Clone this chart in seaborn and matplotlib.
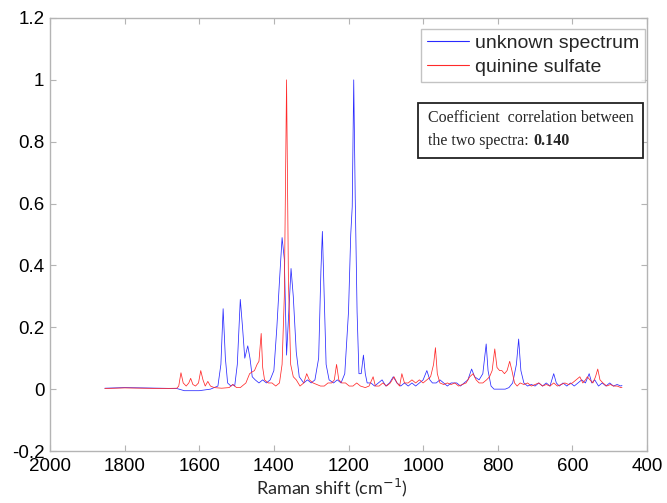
import numpy as np
import pandas as pd
import matplotlib
matplotlib.use("Agg")
import matplotlib.pyplot as plt
import seaborn as sns
from matplotlib.patches import Rectangle
from matplotlib.ticker import FuncFormatter

# ---- data (Raman shift cm^-1, normalised intensity) ----
unknown_shift = [1853, 1800, 1750, 1700, 1660, 1640, 1600, 1570, 1550, 1542, 1536, 1530, 1524, 1515,
                 1510, 1505, 1498, 1490, 1484, 1478, 1470, 1464, 1458, 1450, 1440, 1430, 1420, 1410,
                 1400, 1392, 1385, 1378, 1372, 1366, 1360, 1354, 1348, 1340, 1332, 1320, 1310, 1300,
                 1290, 1280, 1274, 1270, 1265, 1260, 1252, 1240, 1230, 1220, 1210, 1200, 1194, 1190,
                 1186, 1182, 1177, 1172, 1166, 1160, 1155, 1150, 1140, 1130, 1120, 1110, 1100, 1090,
                 1080, 1070, 1060, 1050, 1040, 1030, 1020, 1010, 1000, 990, 982, 975, 965, 955, 945,
                 935, 925, 910, 900, 890, 880, 870, 862, 850, 840, 831, 826, 818, 810, 800, 790, 780,
                 770, 760, 750, 744, 738, 730, 720, 710, 700, 690, 680, 670, 660, 650, 643, 635, 625,
                 615, 605, 595, 585, 575, 565, 555, 548, 540, 530, 520, 510, 500, 490, 480, 470, 467]
unknown_int = [0.003, 0.005, 0.004, 0.003, 0.002, -0.005, -0.005, 0.0, 0.01, 0.08, 0.26, 0.10, 0.02, 0.01,
               0.015, 0.01, 0.08, 0.29, 0.20, 0.10, 0.14, 0.10, 0.04, 0.03, 0.02, 0.03, 0.02, 0.03,
               0.06, 0.20, 0.35, 0.49, 0.42, 0.11, 0.25, 0.39, 0.30, 0.12, 0.04, 0.02, 0.03, 0.02,
               0.03, 0.10, 0.38, 0.51, 0.30, 0.08, 0.03, 0.02, 0.03, 0.02, 0.05, 0.25, 0.50, 0.59,
               1.00, 0.62, 0.25, 0.05, 0.05, 0.11, 0.05, 0.02, 0.02, 0.01, 0.02, 0.03, 0.01, 0.02,
               0.04, 0.02, 0.01, 0.02, 0.01, 0.02, 0.01, 0.02, 0.03, 0.06, 0.03, 0.02, 0.02, 0.03, 0.02,
               0.01, 0.02, 0.02, 0.01, 0.02, 0.03, 0.065, 0.04, 0.03, 0.05, 0.146, 0.06, 0.01, 0.0, 0.0, 0.0, 0.0,
               0.005, 0.02, 0.08, 0.162, 0.06, 0.02, 0.01, 0.015, 0.01, 0.02, 0.01, 0.02, 0.01, 0.05, 0.02, 0.01, 0.02,
               0.01, 0.02, 0.01, 0.02, 0.03, 0.02, 0.05, 0.02, 0.03, 0.01, 0.02, 0.01, 0.02, 0.01, 0.015, 0.01, 0.012]

quinine_shift = [1853, 1800, 1750, 1700, 1660, 1655, 1649, 1643, 1635, 1628, 1623, 1617, 1610, 1602,
                 1596, 1590, 1584, 1577, 1570, 1560, 1540, 1520, 1510, 1500, 1490, 1475, 1465, 1459,
                 1452, 1445, 1440, 1434, 1430, 1425, 1415, 1405, 1395, 1385, 1378, 1372, 1366, 1361,
                 1355, 1348, 1340, 1330, 1320, 1312, 1305, 1295, 1285, 1275, 1265, 1255, 1245, 1238,
                 1232, 1226, 1218, 1208, 1198, 1188, 1178, 1168, 1155, 1145, 1134, 1128, 1118, 1108,
                 1098, 1088, 1078, 1070, 1063, 1057, 1050, 1040, 1030, 1020, 1010, 1000, 990, 980, 972,
                 967, 962, 955, 945, 935, 925, 915, 905, 895, 885, 875, 866, 858, 850, 840, 830, 822,
                 815, 808, 802, 795, 789, 782, 775, 768, 762, 755, 748, 740, 730, 720, 710, 700, 690,
                 680, 670, 660, 650, 640, 630, 620, 610, 600, 590, 580, 572, 565, 560, 553, 545, 538,
                 532, 526, 518, 508, 498, 490, 480, 470, 467]
quinine_int = [0.002, 0.004, 0.003, 0.002, 0.003, 0.01, 0.053, 0.02, 0.01, 0.02, 0.035, 0.015, 0.01, 0.02,
               0.06, 0.03, 0.01, 0.025, 0.01, 0.005, 0.003, 0.005, 0.015, 0.005, 0.005, 0.02, 0.05, 0.055,
               0.06, 0.08, 0.09, 0.18, 0.07, 0.03, 0.02, 0.02, 0.01, 0.02, 0.08, 0.30, 1.0, 0.35,
               0.08, 0.04, 0.03, 0.01, 0.02, 0.05, 0.03, 0.02, 0.015, 0.01, 0.01, 0.02, 0.02, 0.03,
               0.08, 0.03, 0.02, 0.02, 0.01, 0.01, 0.02, 0.01, 0.005, 0.01, 0.04, 0.01, 0.01, 0.02,
               0.01, 0.02, 0.04, 0.02, 0.01, 0.05, 0.02, 0.02, 0.03, 0.02, 0.03, 0.02, 0.03, 0.04, 0.08,
               0.134, 0.05, 0.02, 0.015, 0.02, 0.015, 0.02, 0.01, 0.015, 0.02, 0.04, 0.05, 0.03, 0.02, 0.02, 0.03, 0.04,
               0.06, 0.13, 0.07, 0.06, 0.06, 0.05, 0.06, 0.09, 0.06, 0.02, 0.01, 0.02, 0.015, 0.02, 0.01, 0.015, 0.02,
               0.01, 0.015, 0.01, 0.02, 0.01, 0.015, 0.02, 0.015, 0.02, 0.03, 0.04, 0.02, 0.03, 0.04, 0.03, 0.02, 0.04,
               0.065, 0.03, 0.02, 0.01, 0.015, 0.01, 0.01, 0.005, 0.005]

series_names = ["unknown spectrum", "quinine sulfate"]
x_ticks = [2000, 1800, 1600, 1400, 1200, 1000, 800, 600, 400]
y_ticks = [-0.2, 0, 0.2, 0.4, 0.6, 0.8, 1, 1.2]
corr_text_1 = "Coefficient  correlation between"
corr_text_2 = "the two spectra: "
corr_value = "0.140"

df = pd.concat([
    pd.DataFrame({"shift": unknown_shift, "intensity": unknown_int, "series": series_names[0]}),
    pd.DataFrame({"shift": quinine_shift, "intensity": quinine_int, "series": series_names[1]}),
])

sns.set_style("white")
plt.rcParams["font.family"] = ["Liberation Sans", "DejaVu Sans"]
plt.rcParams["axes.unicode_minus"] = False

fig = plt.figure(figsize=(6.67, 5.03), dpi=100)
ax = fig.add_axes([50 / 667, 1 - 451 / 503, 597 / 667, 433 / 503])

sns.lineplot(data=df, x="shift", y="intensity", hue="series", hue_order=series_names,
             palette={series_names[0]: "#2a2aff", series_names[1]: "#ff2a2a"},
             estimator=None, linewidth=0.55, ax=ax, legend=True)

ax.set_xlim(2000, 400)
ax.set_ylim(-0.2, 1.2)
ax.set_xticks(x_ticks)
ax.set_yticks(y_ticks)
ax.yaxis.set_major_formatter(FuncFormatter(lambda v, p: "%g" % round(v, 2)))
ax.set_xlabel("")
ax.set_ylabel("")

gray = "#b4b4b4"
for s in ax.spines.values():
    s.set_color(gray)
    s.set_linewidth(1.0)
    s.set_visible(True)
ax.tick_params(direction="in", length=4, width=0.8, color=gray, labelsize=13.5,
               labelcolor="black", top=True, right=True, bottom=True, left=True)
ax.tick_params(axis="x", pad=5)
ax.tick_params(axis="y", pad=4)

leg = ax.legend(loc="upper right", bbox_to_anchor=(0.997, 0.975), borderaxespad=0,
                fontsize=14, frameon=True, fancybox=False, handlelength=2.2,
                handletextpad=0.3, labelspacing=0.3, borderpad=0.3)
leg.get_frame().set_edgecolor(gray)
leg.get_frame().set_linewidth(1.0)
for line in leg.get_lines():
    line.set_linewidth(0.8)

# correlation text box
box = Rectangle((0.616, 0.676), 0.377, 0.127, transform=ax.transAxes,
                facecolor="white", edgecolor="#222222", linewidth=1.3, zorder=5)
ax.add_patch(box)
ax.text(0.634, 0.768, corr_text_1, transform=ax.transAxes, fontsize=11.5,
        family=["Liberation Serif"], va="center", ha="left", zorder=6)
t2 = ax.text(0.634, 0.716, corr_text_2, transform=ax.transAxes, fontsize=11.5,
             family=["Liberation Serif"], va="center", ha="left", zorder=6)
fig.canvas.draw()
bb = t2.get_window_extent()
x_end = ax.transAxes.inverted().transform((bb.x1, bb.y0))[0]
ax.text(x_end, 0.716, corr_value, transform=ax.transAxes, fontsize=11.5, fontweight="bold",
        family=["Liberation Serif"], va="center", ha="left", zorder=6)

fig.text(332 / 667, 1 - 488 / 503, "Raman shift (cm$^{-1}$)", ha="center", va="center",
         fontsize=13, family=["Lato", "DejaVu Sans"])

fig.savefig("out.png", dpi=100)
